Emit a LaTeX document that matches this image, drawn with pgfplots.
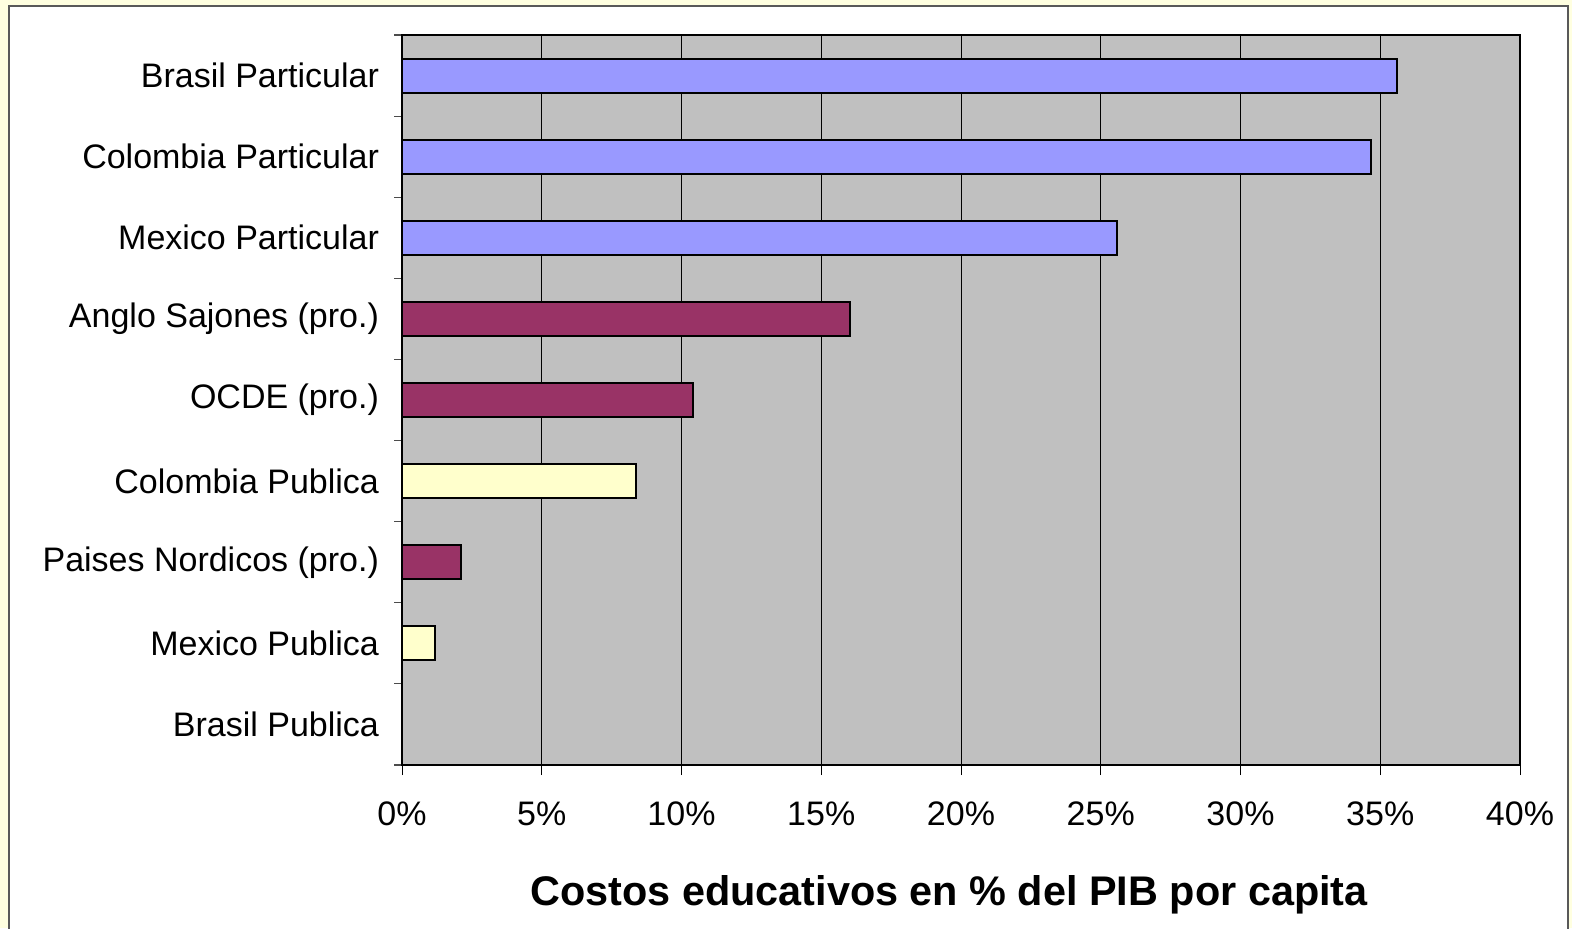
\documentclass[border=0pt]{standalone}
\usepackage{pgfplots}
\pgfplotsset{compat=1.18}
\usepackage{fontspec}
\setmainfont{Liberation Sans}
\definecolor{bgyellow}{HTML}{FFFFE0}
\definecolor{plotgray}{HTML}{C0C0C0}
\definecolor{barblue}{HTML}{9999FF}
\definecolor{barmaroon}{HTML}{993366}
\definecolor{baryellow}{HTML}{FFFFCC}
\begin{document}
\begin{tikzpicture}
\path[use as bounding box, fill=bgyellow] (0,0) rectangle (786pt,464pt);
\draw[fill=white, draw=black!65, line width=1pt] (4.5pt,-10pt) rectangle (784pt,461pt);
\begin{axis}[
  at={(201pt,81.5pt)}, anchor=south west,
  width=559pt, height=365pt, scale only axis,
  xmin=0, xmax=40, ymin=-0.5, ymax=8.5,
  axis background/.style={fill=plotgray},
  axis line style={line width=1.3pt, black},
  xtick={0,5,...,40},
  xticklabels={0\%,5\%,10\%,15\%,20\%,25\%,30\%,35\%,40\%},
  ytick={0,...,8},
  yticklabels={Brasil Publica, Mexico Publica, Paises Nordicos (pro.), Colombia Publica, OCDE (pro.), Anglo Sajones (pro.), Mexico Particular, Colombia Particular, Brasil Particular},
  minor ytick={-0.5,0.5,...,8.5},
  tick align=outside, xtick pos=bottom, ytick pos=left,
  major tick length=5pt, minor tick length=4pt,
  major y tick style={draw=none},
  minor y tick style={draw=black!70, line width=0.6pt},
  major x tick style={draw=black, line width=0.5pt},
  xmajorgrids, major grid style={black, line width=0.5pt},
  tick label style={font=\fontsize{17}{20}\selectfont},
  xticklabel style={anchor=base, yshift=-25pt},
  yticklabel style={anchor=east, xshift=-3pt},
  xlabel={\bfseries Costos educativos en \% del PIB por capita},
  xlabel style={at={(axis description cs:0.5,0)}, anchor=base, yshift=-70pt, xshift=-6pt, font=\fontsize{20.7}{24}\selectfont},
  xbar, bar width=17pt,
  every axis plot/.append style={bar shift=0pt, draw=black, line width=1pt},
]
\addplot[fill=barblue, bar shift=0pt] coordinates {(35.6,8) (34.67,7) (25.58,6)};
\addplot[fill=barmaroon, bar shift=0pt] coordinates {(16.03,5) (10.41,4) (2.11,2)};
\addplot[fill=baryellow, bar shift=0pt] coordinates {(8.37,3) (1.18,1)};
\end{axis}
\end{tikzpicture}
\end{document}
